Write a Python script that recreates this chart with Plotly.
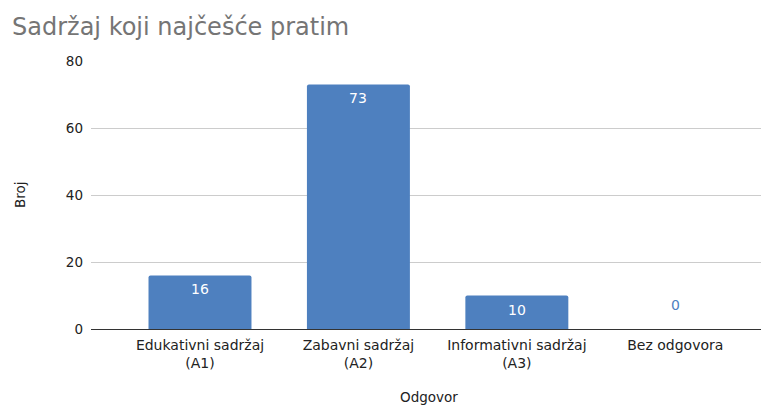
import plotly.graph_objects as go

categories = ["Edukativni sadržaj<br>(A1)", "Zabavni sadržaj<br>(A2)", "Informativni sadržaj<br>(A3)", "Bez odgovora"]
values = [16, 73, 10, 0]
y_ticks = [0, 20, 40, 60, 80]

bar_color = "#4e80bf"
font = "DejaVu Sans, Verdana, sans-serif"
txt = "#222222"

fig = go.Figure()
fig.add_trace(go.Bar(
    x=list(range(len(categories))), y=values, marker_color=bar_color,
    marker_line_width=0, marker_cornerradius=2,
))
# value labels: white inside near the top, blue above the axis for zero
for i, v in enumerate(values):
    fig.add_annotation(x=i, y=v, text=str(v), showarrow=False,
                       yshift=(-14 if v > 0 else 24), yanchor="middle",
                       font=dict(color=("white" if v > 0 else bar_color), size=14, family=font))

# axis titles as annotations (precise placement)
fig.add_annotation(text="Odgovor", xref="paper", yref="paper", x=0.5, y=0, yshift=-68,
                   xanchor="center", yanchor="middle", showarrow=False,
                   font=dict(size=13.5, color=txt, family=font))
fig.add_annotation(text="Broj", xref="paper", yref="paper", x=0, xshift=-71, y=0.5,
                   xanchor="center", yanchor="middle", showarrow=False, textangle=-90,
                   font=dict(size=13.5, color=txt, family=font))

# page body has an 8px margin: layout is shifted up/left by 8px to compensate
fig.update_layout(
    width=769, height=405,
    margin=dict(l=83, r=10, t=53, b=84, autoexpand=False),
    plot_bgcolor="white", paper_bgcolor="white",
    bargap=0.35, showlegend=False,
    title=dict(text="Sadržaj koji najčešće pratim", x=4/769, xanchor="left", y=1-19/405, yanchor="middle",
               font=dict(size=24, color="#757575", family=font)),
    font=dict(family=font, size=14, color=txt),
)
fig.update_xaxes(
    tickmode="array", tickvals=list(range(len(categories))), ticktext=categories,
    range=[-0.688, 3.579], showgrid=False, zeroline=False, automargin=False,
    showline=True, linecolor="#333333", linewidth=1, ticks="", ticklabelstandoff=3,
    tickfont=dict(size=14, color=txt),
)
fig.update_yaxes(
    range=[0, 80], tickvals=y_ticks, showgrid=True, gridcolor="#cccccc", automargin=False,
    zeroline=False, ticks="", ticklabelstandoff=7, tickfont=dict(size=13.5, color=txt),
)
fig.write_html("out.html")
